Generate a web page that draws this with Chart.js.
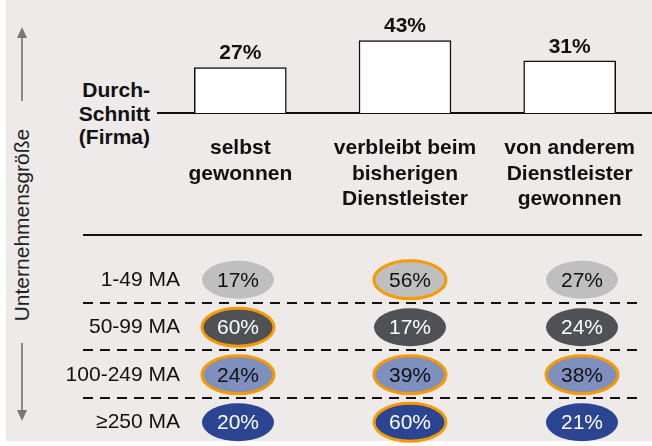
<!DOCTYPE html>
<html>
<head>
<meta charset="utf-8">
<script src="https://cdn.jsdelivr.net/npm/chart.js@4.4.1/dist/chart.umd.min.js"></script>
<style>
  body { margin: 0; background: #fff; font-family: "Liberation Sans", Arial, sans-serif; }
  #stage { position: relative; width: 652px; height: 446px; overflow: hidden; }
  #panel { position: absolute; left: 6px; top: 0; width: 646px; height: 441px; background: #eeeae9; }
  #topWrap { position: absolute; left: 0; top: 0; width: 652px; height: 230px; }
  #tableWrap { position: absolute; left: 0; top: 230px; width: 652px; height: 216px; }
  #avgLabel { position: absolute; right: 502px; top: 78px; font-size: 21px; font-weight: bold;
              line-height: 23.5px; text-align: right; color: #111; }
  #sideTitle { position: absolute; left: 22px; top: 225px; transform: translate(-50%, -50%) rotate(-90deg);
               font-size: 21px; color: #222; white-space: nowrap; }
  svg { position: absolute; left: 0; top: 0; }
</style>
</head>
<body>
<div id="stage">
  <div id="panel"></div>
  <svg width="652" height="446">
    <line x1="22" y1="36" x2="22" y2="101" stroke="#888" stroke-width="2"/>
    <polygon points="17,38 27,38 22,27" fill="#777"/>
    <line x1="22" y1="343" x2="22" y2="412" stroke="#888" stroke-width="2"/>
    <polygon points="17,410 27,410 22,421" fill="#777"/>
  </svg>
  <div id="sideTitle">Unternehmensgröße</div>
  <div id="avgLabel">Durch-<br>Schnitt<br>(Firma)</div>
  <div id="topWrap"><canvas id="avgChart"></canvas></div>
  <div id="tableWrap"><canvas id="sizeChart"></canvas></div>
</div>
<script>
const categories = [
    ['selbst', 'gewonnen'],
    ['verbleibt beim', 'bisherigen', 'Dienstleister'],
    ['von anderem', 'Dienstleister', 'gewonnen']
];
const averageValues = [27, 43, 31];

const sizeClasses = ['1-49 MA', '50-99 MA', '100-249 MA', '≥250 MA'];
const shareSmall = [17, 56, 27];
const shareMid = [60, 17, 24];
const shareLarge = [24, 39, 38];
const shareBig = [20, 60, 21];
const highlightSmall = [false, true, false];
const highlightMid = [true, false, false];
const highlightLarge = [true, true, true];
const highlightBig = [false, true, false];

const rowFill = ['#bfbfbf', '#505155', '#7f8fbe', '#2b4593'];
const rowText = ['#111', '#fff', '#111', '#fff'];
const FONT = '"Liberation Sans", Arial, sans-serif';

// percent label above each bar
const barValuePlugin = {
    id: 'barValues',
    afterDatasetsDraw(chart) {
        const ctx = chart.ctx;
        const meta = chart.getDatasetMeta(0);
        ctx.save();
        ctx.font = 'bold 21px ' + FONT;
        ctx.fillStyle = '#111';
        ctx.textAlign = 'center';
        ctx.textBaseline = 'alphabetic';
        meta.data.forEach((bar, i) => {
            ctx.fillText(averageValues[i] + '%', bar.x, bar.y - 8);
        });
        ctx.restore();
    }
};

new Chart(document.getElementById('avgChart'), {
    type: 'bar',
    data: {
        labels: categories,
        datasets: [{
            data: averageValues,
            backgroundColor: '#ffffff',
            borderColor: '#111',
            borderWidth: 1.5,
            borderSkipped: 'bottom',
            barThickness: 92
        }]
    },
    options: {
        responsive: true,
        maintainAspectRatio: false,
        animation: false,
        layout: { padding: { left: 158, right: 0, top: 0, bottom: 0 } },
        plugins: { legend: { display: false }, tooltip: { enabled: false } },
        scales: {
            x: {
                grid: { display: false, drawTicks: false },
                border: { display: true, color: '#111', width: 2 },
                ticks: {
                    color: '#111',
                    padding: 23,
                    maxRotation: 0,
                    font: { family: FONT, size: 21, weight: 'bold', lineHeight: 1.2 }
                },
                afterFit(scale) {
                    scale.height = 117;
                    scale.paddingLeft = 0;
                    scale.paddingRight = 0;
                }
            },
            y: { display: false, min: 0, max: 67 }
        }
    },
    plugins: [barValuePlugin]
});

const sizeRows = [shareSmall, shareMid, shareLarge, shareBig];
const highlightRows = [highlightSmall, highlightMid, highlightLarge, highlightBig];
const cellPoints = [];
sizeRows.forEach((row, r) => {
    row.forEach((v, c) => cellPoints.push({ x: c, y: sizeClasses[r], v: v, row: r, hl: highlightRows[r][c] }));
});

// solid header line, dashed separators between size classes, and the ellipse cells
const rowLinePlugin = {
    id: 'rowLines',
    beforeDatasetsDraw(chart) {
        const ctx = chart.ctx;
        const y = chart.scales.y;
        const x0 = 83, x1 = 642;
        ctx.save();
        ctx.strokeStyle = '#111';
        ctx.lineWidth = 2;
        ctx.beginPath();
        ctx.moveTo(x0, 5);
        ctx.lineTo(x1, 5);
        ctx.stroke();
        ctx.setLineDash([10, 7]);
        for (let i = 0; i < sizeClasses.length - 1; i++) {
            const py = Math.round((y.getPixelForValue(i) + y.getPixelForValue(i + 1)) / 2) - 1;
            ctx.beginPath();
            ctx.moveTo(x0, py);
            ctx.lineTo(x1, py);
            ctx.stroke();
        }
        ctx.restore();
    },
    afterDatasetsDraw(chart) {
        const ctx = chart.ctx;
        const meta = chart.getDatasetMeta(0);
        ctx.save();
        meta.data.forEach((pt, i) => {
            const d = cellPoints[i];
            ctx.beginPath();
            ctx.ellipse(pt.x, pt.y, 36, 19, 0, 0, Math.PI * 2);
            ctx.fillStyle = rowFill[d.row];
            ctx.fill();
            if (d.hl) {
                ctx.lineWidth = 3;
                ctx.strokeStyle = '#f59b00';
                ctx.stroke();
            }
            ctx.fillStyle = rowText[d.row];
            ctx.font = '21px ' + FONT;
            ctx.textAlign = 'center';
            ctx.textBaseline = 'middle';
            ctx.fillText(d.v + '%', pt.x, pt.y + 1);
        });
        ctx.restore();
    }
};

new Chart(document.getElementById('sizeChart'), {
    type: 'scatter',
    data: {
        datasets: [{ data: cellPoints, pointRadius: 0, pointHoverRadius: 0 }]
    },
    options: {
        responsive: true,
        maintainAspectRatio: false,
        animation: false,
        layout: { padding: { left: 0, right: 10, top: 26, bottom: 0 } },
        plugins: { legend: { display: false }, tooltip: { enabled: false } },
        scales: {
            x: { type: 'linear', display: false, min: (188 - 238) / 172, max: 2 + 60 / 172 },
            y: {
                type: 'category',
                labels: sizeClasses,
                offset: true,
                grid: { display: false, drawTicks: false },
                border: { display: false },
                ticks: {
                    color: '#111',
                    padding: 8,
                    font: { family: FONT, size: 21 }
                },
                afterFit(scale) {
                    scale.width = 188;
                    scale.paddingTop = 0;
                    scale.paddingBottom = 0;
                }
            }
        }
    },
    plugins: [rowLinePlugin]
});
</script>
</body>
</html>
